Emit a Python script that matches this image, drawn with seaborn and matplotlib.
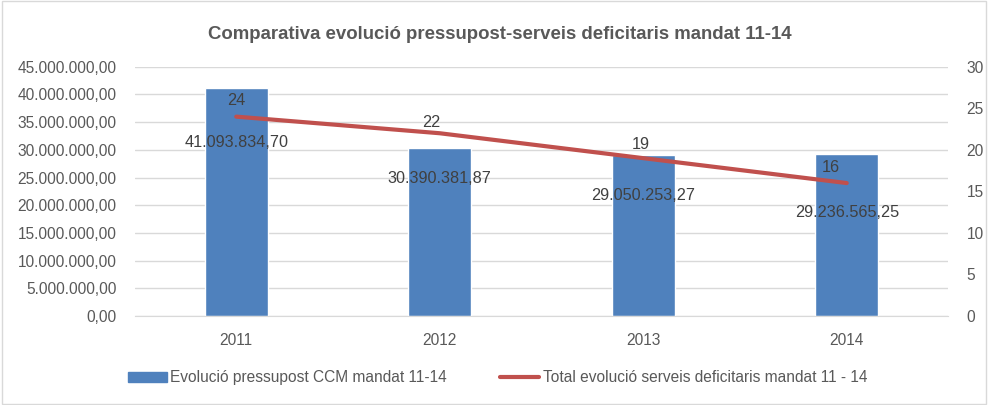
import matplotlib
matplotlib.use("Agg")
import matplotlib.pyplot as plt
import seaborn as sns
import pandas as pd
from matplotlib.patches import Rectangle
from matplotlib.lines import Line2D

# Data
years = ["2011", "2012", "2013", "2014"]
budget = [41093834.70, 30390381.87, 29050253.27, 29236565.25]
services = [24, 22, 19, 16]
budget_labels = ["41.093.834,70", "30.390.381,87", "29.050.253,27", "29.236.565,25"]
left_ticks = [0, 5e6, 10e6, 15e6, 20e6, 25e6, 30e6, 35e6, 40e6, 45e6]
right_ticks = [0, 5, 10, 15, 20, 25, 30]

BLUE = "#4F81BD"
RED = "#C0504D"
TXT = "#595959"

sns.set_style("white")
plt.rcParams["font.family"] = ["Liberation Sans", "DejaVu Sans"]

df = pd.DataFrame({"year": years, "budget": budget, "services": services})

fig = plt.figure(figsize=(9.89, 4.05), dpi=100)
ax = fig.add_axes([0.136, 0.22, 0.823, 0.615])

sns.barplot(data=df, x="year", y="budget", color=BLUE, width=0.31,
            saturation=1, ax=ax, zorder=2)
ax.set_xlim(-0.5, 3.5)
ax.set_ylim(0, 45e6)
ax.set_yticks(left_ticks)
ax.set_yticklabels([f"{v:,.2f}".replace(",", "X").replace(".", ",").replace("X", ".")
                    for v in left_ticks])
ax.grid(axis="y", color="#D9D9D9", linewidth=1, zorder=0)
ax.set_axisbelow(True)
ax.set_xlabel("")
ax.set_ylabel("")
for s in ["left", "right", "top"]:
    ax.spines[s].set_visible(False)
ax.spines["bottom"].set_color("#D9D9D9")
ax.tick_params(axis="both", length=0, labelsize=11.2, colors=TXT)
ax.tick_params(axis="y", pad=13)
ax.tick_params(axis="x", pad=12)

ax2 = ax.twinx()
sns.lineplot(data=df, x="year", y="services", color=RED, linewidth=3,
             ax=ax2, solid_capstyle="round")
ax2.set_ylim(0, 30)
ax2.set_yticks(right_ticks)
ax2.set_ylabel("")
for s in ["left", "right", "top", "bottom"]:
    ax2.spines[s].set_visible(False)
ax2.tick_params(axis="y", length=0, labelsize=11.2, colors=TXT, pad=13)

# Bar value labels (placed like the original)
bar_label_y = [31.3e6, 24.9e6, 21.7e6, 18.6e6]
for i, (lab, yy) in enumerate(zip(budget_labels, bar_label_y)):
    ax.text(i, yy, lab, ha="center", va="center", fontsize=11.7, color="#404040", zorder=5)

# Line value labels
line_dx = [0, -0.04, -0.01, -0.08]
line_dy = [1.9, 1.3, 1.7, 1.9]
for i, v in enumerate(services):
    ax2.text(i + line_dx[i], v + line_dy[i], str(v), ha="center", va="center",
             fontsize=11.7, color="#404040")

fig.suptitle("Comparativa evolució pressupost-serveis deficitaris mandat 11-14",
             x=0.505, y=0.935, fontsize=13.4, fontweight="bold", color=TXT)

# Legend
handles = [Rectangle((0, 0), 1, 1, color=BLUE),
           Line2D([0], [0], color=RED, linewidth=3)]
fig.legend(handles, ["Evolució pressupost CCM mandat 11-14",
                     "Total evolució serveis deficitaris mandat 11 - 14"],
           loc="center", bbox_to_anchor=(0.503, 0.067), ncol=2, frameon=False,
           fontsize=11.2, labelcolor=TXT, handlelength=2.5, handleheight=0.6,
           handletextpad=0.25, columnspacing=3.4)

# Outer border
fig.patches.append(Rectangle((0.002, 0.003), 0.995, 0.994, transform=fig.transFigure,
                             fill=False, edgecolor="#D9D9D9", linewidth=1))

fig.savefig("out.png", dpi=100)
